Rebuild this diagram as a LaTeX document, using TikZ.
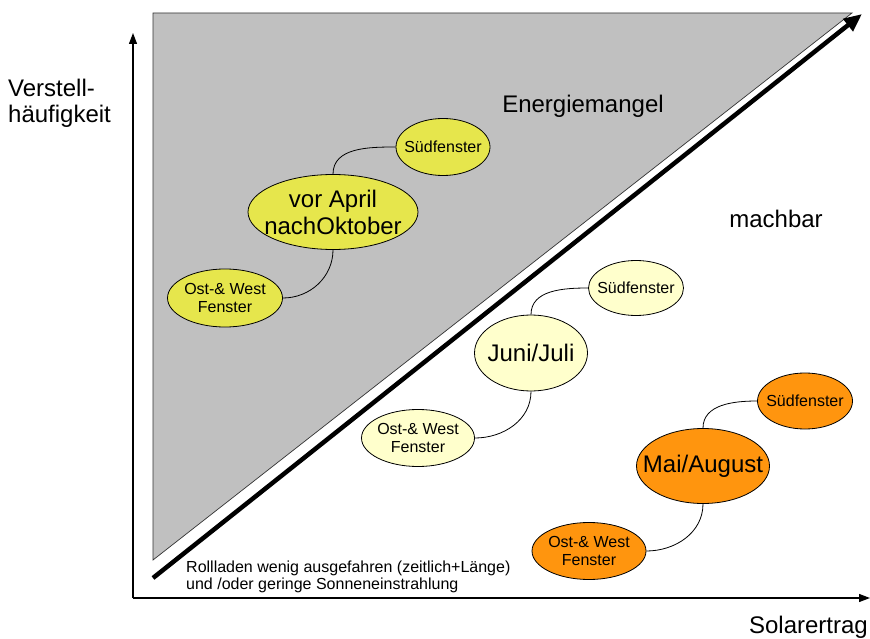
\documentclass[tikz,border=0pt]{standalone}
\usepackage{fontspec}
\setmainfont{Liberation Sans}
\usetikzlibrary{shapes.geometric,arrows.meta}
\definecolor{zoneGray}{HTML}{C0C0C0}
\definecolor{earlyYellow}{HTML}{E6E64C}
\definecolor{paleYellow}{HTML}{FFFFCC}
\definecolor{summerOrange}{HTML}{FF950E}
\begin{document}
\begin{tikzpicture}[x=1pt,y=-1pt,
  bubble/.style={ellipse, draw=black, line width=0.8pt, inner sep=-15pt, align=center},
  bigbubble/.style={bubble, font=\fontsize{24}{27}\selectfont},
  smallbubble/.style={bubble, font=\fontsize{16}{18}\selectfont},
  link/.style={draw=black, line width=0.8pt},
  axisline/.style={line width=1.2pt, -{Triangle[length=11pt,width=8pt]}},
  biglabel/.style={font=\fontsize{24}{26}\selectfont, inner sep=0pt},
  notelabel/.style={font=\fontsize{16}{17}\selectfont, inner sep=0pt, align=left}
]
\useasboundingbox (0,0) rectangle (870,639);

% shortage zone
\coordinate (zoneTL) at (153,13);
\coordinate (zoneTR) at (852,13);
\coordinate (zoneBL) at (153,560);
\filldraw[fill=zoneGray, draw=black!80, line width=0.7pt] (zoneTL) -- (zoneTR) -- (zoneBL) -- cycle;

% boundary arrow
\coordinate (diagStart) at (153,578);
\coordinate (diagEnd) at (862,14);
\draw[line width=4.5pt, -{Triangle[length=18pt,width=15pt]}] (diagStart) -- (diagEnd);

% axes
\coordinate (origin) at (133,598);
\coordinate (yTop) at (133,33);
\coordinate (xEnd) at (870,598);
\draw[axisline] (origin) -- (yTop);
\draw[axisline] (origin) -- (xEnd);

% axis labels and zone labels
\node[biglabel, align=left, anchor=west] (ylab) at (8,103) {Verstell-\\häufigkeit};
\node[biglabel, anchor=east] (xlab) at (868,627) {Solarertrag};
\node[biglabel] (shortage) at (583,106) {Energiemangel};
\node[biglabel] (feasible) at (776,219) {machbar};
\node[notelabel, anchor=west] (note) at (186,577) {Rollladen wenig ausgefahren (zeitlich+Länge)\\und /oder geringe Sonneneinstrahlung};

% spring / autumn
\node[bigbubble, fill=earlyYellow, minimum width=170pt, minimum height=75pt] (early) at (333,212) {vor April\\nachOktober};
\node[smallbubble, fill=earlyYellow, minimum width=94pt, minimum height=57pt] (earlySouth) at (443,147) {Südfenster};
\node[smallbubble, fill=earlyYellow, minimum width=115pt, minimum height=58pt] (earlyEW) at (225,298) {Ost-\& West\\Fenster};
\draw[link] (early.north) to[out=90,in=180] (earlySouth.west);
\draw[link] (early.south) to[out=-90,in=0] (earlyEW.east);

% June / July
\node[bigbubble, fill=paleYellow, minimum width=113pt, minimum height=76pt] (midsummer) at (531,353) {Juni/Juli};
\node[smallbubble, fill=paleYellow, minimum width=95pt, minimum height=55pt] (midSouth) at (636,288) {Südfenster};
\node[smallbubble, fill=paleYellow, minimum width=113pt, minimum height=57pt] (midEW) at (418,438) {Ost-\& West\\Fenster};
\draw[link] (midsummer.north) to[out=90,in=180] (midSouth.west);
\draw[link] (midsummer.south) to[out=-90,in=0] (midEW.east);

% May / August
\node[bigbubble, fill=summerOrange, minimum width=133pt, minimum height=75pt] (shoulder) at (703,466) {Mai/August};
\node[smallbubble, fill=summerOrange, minimum width=95pt, minimum height=56pt] (shoulderSouth) at (805,401) {Südfenster};
\node[smallbubble, fill=summerOrange, minimum width=114pt, minimum height=57pt] (shoulderEW) at (589,551) {Ost-\& West\\Fenster};
\draw[link] (shoulder.north) to[out=90,in=180] (shoulderSouth.west);
\draw[link] (shoulder.south) to[out=-90,in=0] (shoulderEW.east);
\end{tikzpicture}
\end{document}
